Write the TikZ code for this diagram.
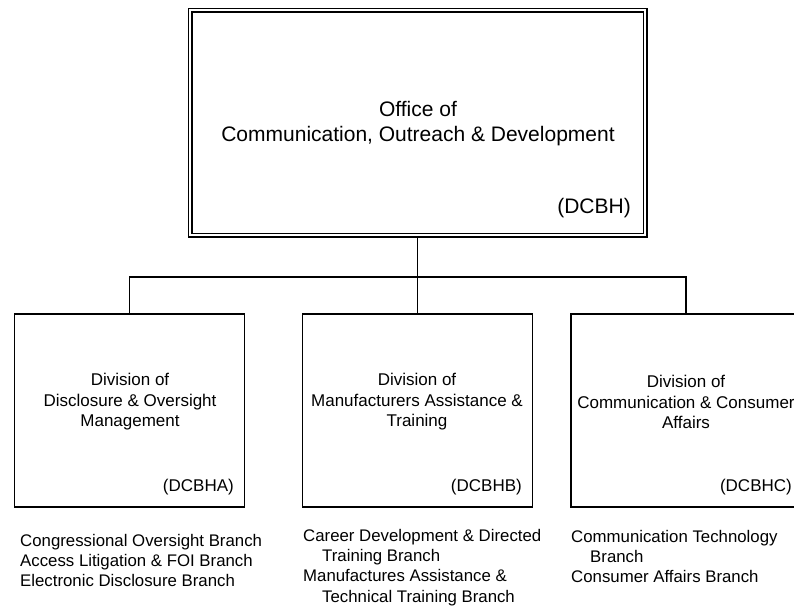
\documentclass[tikz,border=0pt]{standalone}
\usepackage{fontspec}
\setmainfont{Liberation Sans}
\begin{document}
\begin{tikzpicture}[x=1pt,y=-1pt,
  topbox/.style={draw, line width=1.2pt, double, double distance=2.6pt, minimum width=455pt, minimum height=225pt, inner sep=0pt},
  divbox/.style={draw, line width=1.6pt, minimum width=230pt, minimum height=193pt, inner sep=0pt},
  conn/.style={line width=1.8pt},
  toptext/.style={align=center, font=\fontsize{21}{25}\selectfont, inner sep=0pt},
  divtext/.style={align=center, font=\fontsize{17}{20.5}\selectfont, inner sep=0pt},
  code/.style={anchor=east, font=\fontsize{17}{20}\selectfont, inner sep=0pt},
  topcode/.style={anchor=east, font=\fontsize{21}{25}\selectfont, inner sep=0pt},
  branch/.style={anchor=north west, align=left, font=\fontsize{16.8}{20.3}\selectfont, inner sep=0pt}
]
\useasboundingbox (0,0) rectangle (794,608);
\coordinate (bus) at (0,277);
% boxes
\node[topbox] (top) at (417.5,122.5) {};
\node[divbox] (a) at (129.5,410.5) {};
\node[divbox] (b) at (417.5,410.5) {};
\node[divbox] (c) at (686,410.5) {};
% connectors
\draw[conn] (b.north) -- (top.south);
\draw[conn] (a.north) -- (a.north |- bus) -- (c.north |- bus) -- (c.north);
% texts
\node[toptext] (toptxt) at (418,124) {Office of\\Communication, Outreach \& Development};
\node[topcode] (topcd) at (631,208) {(DCBH)};
\node[divtext] (atxt) at (130,402) {Division of\\Disclosure \& Oversight\\Management};
\node[divtext] (btxt) at (417,402) {Division of\\Manufacturers Assistance \&\\Training};
\node[divtext] (ctxt) at (686,402) {Division of\\Communication \& Consumer\\Affairs};
\node[code] (acd) at (234,487) {(DCBHA)};
\node[code] (bcd) at (522,487) {(DCBHB)};
\node[code] (ccd) at (792,487) {(DCBHC)};
% branches
\node[branch] (abr) at (20,534) {Congressional Oversight Branch\\Access Litigation \& FOI Branch\\Electronic Disclosure Branch};
\node[branch] (bbr) at (303,529) {Career Development \& Directed\\\hspace*{19pt}Training Branch\\Manufactures Assistance \&\\\hspace*{19pt}Technical Training Branch};
\node[branch] (cbr) at (571,530) {Communication Technology\\\hspace*{19pt}Branch\\Consumer Affairs Branch};
\end{tikzpicture}
\end{document}
